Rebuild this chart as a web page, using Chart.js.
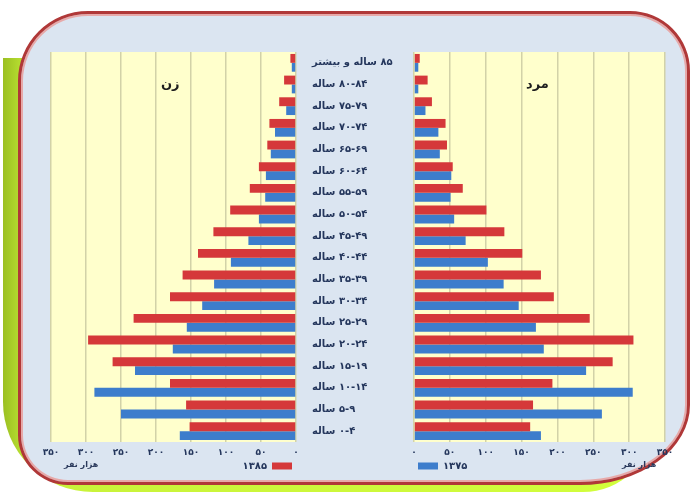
<!DOCTYPE html>
<html>
<head>
<meta charset="utf-8">
<script src="https://cdn.jsdelivr.net/npm/chart.js@4"></script>
<style>
  html, body { margin: 0; padding: 0; background: #fff; }
  #page { position: relative; width: 693px; height: 492px; overflow: hidden; }
  #lime {
    position: absolute; left: 3px; top: 58px; width: 650px; height: 434px;
    background: linear-gradient(90deg, #9bbf22 0px, #c8f23a 30px, #d2ff3c 100%);
    border-radius: 0 0 70px 90px;
  }
  #frame {
    position: absolute; left: 18px; top: 11px; width: 666px; height: 468px;
    background: #dbe5f1;
    border: 3px solid #b03838;
    box-shadow: inset 0 0 0 2px #e7a9a9;
    border-radius: 70px 60px 110px 50px / 70px 60px 80px 50px;
  }
  canvas { position: absolute; left: 0; top: 0; direction: rtl; }
  .lbl { position: absolute; font-family: 'DejaVu Sans', sans-serif; font-weight: bold; color: #1f1f1f; direction: rtl; }
</style>
</head>
<body>
<div id="page">
  <div id="lime"></div>
  <div id="frame"></div>
  <canvas id="left" width="693" height="492"></canvas>
  <canvas id="right" width="693" height="492"></canvas>
  <div class="lbl" style="left:161px; top:76px; font-size:13px;">زن</div>
  <div class="lbl" style="left:526px; top:76px; font-size:13px;">مرد</div>
  <div class="lbl" style="left:64px; top:460px; font-size:8px; color:#2b3a5c;">هزار نفر</div>
  <div class="lbl" style="left:622px; top:460px; font-size:8px; color:#2b3a5c;">هزار نفر</div>
</div>
<script>
// age groups, top to bottom
var ageGroups = ['۸۵ ساله و بیشتر', '۸۰-۸۴ ساله', '۷۵-۷۹ ساله', '۷۰-۷۴ ساله', '۶۵-۶۹ ساله',
  '۶۰-۶۴ ساله', '۵۵-۵۹ ساله', '۵۰-۵۴ ساله', '۴۵-۴۹ ساله', '۴۰-۴۴ ساله', '۳۵-۳۹ ساله',
  '۳۰-۳۴ ساله', '۲۵-۲۹ ساله', '۲۰-۲۴ ساله', '۱۵-۱۹ ساله', '۱۰-۱۴ ساله', '۵-۹ ساله', '۰-۴ ساله'];

var years = ['۱۳۸۵', '۱۳۷۵'];

// thousand people
var women1385 = [8, 17, 24, 38, 41, 53, 66, 94, 118, 140, 162, 180, 232, 297, 262, 180, 157, 152];
var women1375 = [6, 6, 14, 30, 36, 43, 44, 53, 68, 93, 117, 134, 156, 176, 230, 288, 250, 166];
var men1385 = [8, 19, 25, 44, 46, 54, 68, 101, 126, 151, 177, 195, 245, 306, 277, 193, 166, 162];
var men1375 = [6, 6, 16, 34, 36, 52, 51, 56, 72, 103, 125, 146, 170, 181, 240, 305, 262, 177];

var xTickLabels = ['۰', '۵۰', '۱۰۰', '۱۵۰', '۲۰۰', '۲۵۰', '۳۰۰', '۳۵۰'];

var red = '#d5383a';
var blue = '#3d7dcc';
var ink = '#24365c';

Chart.defaults.font.family = "'DejaVu Sans', sans-serif";

var plotBg = {
  id: 'plotBg',
  beforeLayout: function(chart) { chart.ctx.direction = 'rtl'; },
  beforeDraw: function(chart) {
    var a = chart.chartArea;
    var c = chart.ctx;
    c.direction = 'rtl';
    c.save();
    c.fillStyle = '#ffffcc';
    c.fillRect(a.left, a.top, a.right - a.left, a.bottom - a.top);
    c.restore();
  }
};

function makeChart(id, redData, blueData, left) {
  return new Chart(document.getElementById(id), {
    type: 'bar',
    data: {
      labels: ageGroups,
      datasets: [
        { label: years[0], data: redData, backgroundColor: red },
        { label: years[1], data: blueData, backgroundColor: blue }
      ]
    },
    options: {
      responsive: false,
      animation: false,
      indexAxis: 'y',
      layout: {
        padding: left ? { left: 51, right: 278, top: 52, bottom: 11 } : { left: 414, right: 28, top: 52, bottom: 11 }
      },
      datasets: { bar: { barPercentage: 1, categoryPercentage: 0.82 } },
      scales: {
        x: {
          reverse: left,
          min: 0,
          max: 350,
          ticks: {
            stepSize: 50,
            color: ink,
            font: { size: 9, weight: 'bold' },
            padding: 5,
            callback: function(value) { return xTickLabels[Math.round(value / 50)]; }
          },
          grid: { color: '#d2d2a8', lineWidth: 1.5, drawTicks: false },
          border: { display: false },
          afterFit: function(s) { s.height = 15; }
        },
        y: {
          display: left,
          position: 'right',
          ticks: {
            autoSkip: false,
            color: ink,
            font: { size: 10, weight: 'bold' },
            padding: 16
          },
          grid: { display: false, drawTicks: false },
          border: { display: false },
          afterFit: function(s) { s.width = left ? 119 : 0; }
        }
      },
      plugins: {
        legend: {
          position: 'bottom',
          fullSize: false,
          align: 'start',
          rtl: left,
          labels: {
            boxWidth: 20,
            boxHeight: 7,
            padding: 4,
            color: ink,
            font: { size: 10, weight: 'bold' },
            filter: function(item) { return item.datasetIndex === (left ? 0 : 1); }
          }
        },
        tooltip: { enabled: false }
      }
    },
    plugins: [plotBg]
  });
}

makeChart('left', women1385, women1375, true);
makeChart('right', men1385, men1375, false);
</script>
</body>
</html>
